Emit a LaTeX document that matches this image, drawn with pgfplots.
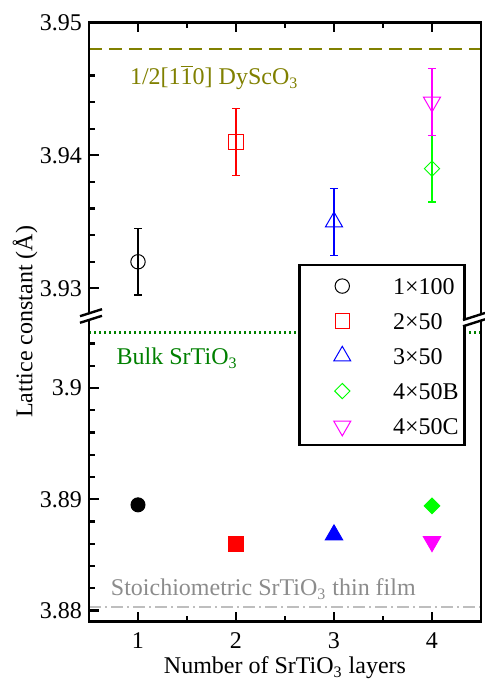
\documentclass[border=0pt]{standalone}
\usepackage{fontspec}
\setmainfont{Liberation Serif}
\usepackage{pgfplots}
\pgfplotsset{compat=1.18}
\definecolor{olivec}{HTML}{808000}
\definecolor{bulkc}{HTML}{008000}
\definecolor{stoc}{HTML}{BEBEBE}
\definecolor{stotext}{HTML}{8C8C8C}
\definecolor{grn}{RGB}{0,255,0}
\definecolor{mag}{RGB}{255,0,255}
\definecolor{rd}{RGB}{255,0,0}
\definecolor{bl}{RGB}{0,0,255}
\newcommand\fs{\fontsize{12pt}{14pt}\selectfont}
\pgfplotsset{
  common/.style={
    scale only axis, width=196pt, xmin=0.5, xmax=4.5,
    xtick={1,2,3,4}, minor xtick={1.5,2.5,3.5},
    tick align=inside, major tick length=5pt, minor tick length=2.8pt,
    tick style={black, line width=1.1pt},
    axis line style={draw=none},
    ytick pos=left,
    tick label style={font=\fs},
    /pgf/number format/assume math mode=true,
    clip=false,
    every axis plot/.append style={line width=0.5pt},
    error bars/error bar style={line width=0.6pt},
    error bars/error mark options={rotate=90, mark size=2pt, line width=0.6pt},
  }
}
\begin{document}
\begin{tikzpicture}
\path[use as bounding box] (0,0) rectangle (242pt,343pt);
% lower part
\begin{axis}[common, at={(44.5pt,183.5pt)}, anchor=north west, height=151.35pt,
  ymin=3.879, ymax=3.9062, ytick={3.88,3.89,3.9}, yticklabels={3.88,3.89,3.9},
  minor ytick={3.882,3.884,3.886,3.888,3.892,3.894,3.896,3.898,3.902,3.904},
  xtick pos=left, xticklabels={1,2,3,4}, xticklabel style={yshift=-1.75pt},
  xlabel={Number of SrTiO\textsubscript{3} layers},
  xlabel style={font=\fs, at={(rel axis cs:0.5,0)}, anchor=base, yshift=-26pt},
]
\addplot[forget plot, stoc, line width=1pt, dash pattern=on 6pt off 2pt on 1pt off 2pt] coordinates {(0.5,3.8803) (4.5,3.8803)};
\addplot[forget plot, bulkc, line width=1.2pt, dash pattern=on 1.2pt off 1.3pt] coordinates {(0.5,3.905) (4.5,3.905)};
\addplot[only marks, mark=*, mark size=3.5pt, black] coordinates {(1,3.8895)};
\addplot[only marks, mark=square*, mark size=3.8pt, rd] coordinates {(2,3.886)};
\addplot[only marks, mark=triangle*, mark size=5pt, bl] coordinates {(3,3.8868)};
\addplot[only marks, mark=square*, mark size=2.75pt, mark options={rotate=45}, grn] coordinates {(4,3.8894)};
\addplot[only marks, mark=triangle*, mark size=5pt, mark options={rotate=180}, mag] coordinates {(4,3.8862)};
\node[anchor=base west, font=\fs, text=bulkc, inner sep=0pt] at (axis cs:0.779,3.9021) {Bulk SrTiO\textsubscript{3}};
\node[anchor=base west, font=\fs, text=stotext, inner sep=0pt] at (axis cs:0.72,3.88135) {Stoichiometric SrTiO\textsubscript{3} thin film};
\draw[line width=1.35pt] (rel axis cs:0,1) -- (rel axis cs:0,0) -- (rel axis cs:1,0) -- (rel axis cs:1,1);
\end{axis}
% upper part
\begin{axis}[common, at={(44.5pt,183.5pt)}, anchor=south west, height=148.35pt,
  ymin=3.9277, ymax=3.95, ytick={3.93,3.94,3.95}, yticklabels={3.93,3.94,3.95},
  minor ytick={3.928,3.932,3.934,3.936,3.938,3.942,3.944,3.946,3.948},
  xtick pos=right, xticklabels={},
  legend style={at={(rel axis cs:0.534,0.1863)}, anchor=north west, draw=black, line width=1.35pt, fill=white,
    inner xsep=0pt, inner ysep=1.25pt, row sep=0pt, column sep=0pt, cells={anchor=base west},
    nodes={inner sep=0pt, text height=13.25pt, text depth=4.25pt, text width=35.8pt, font=\fs}},
  legend image code/.code={\path[draw=none,fill=none] (0pt,0pt) -- (46.7pt,0pt); \draw[only marks, mark repeat=2,mark phase=2] plot coordinates {(0pt,4pt) (21.3pt,4pt) (42pt,4pt)};},
]
\addplot[forget plot, olivec, line width=1.15pt, dash pattern=on 6.5pt off 3.5pt] coordinates {(0.5,3.948) (4.5,3.948)};
\addplot[black, line width=0.5pt, only marks, mark=o, mark size=3.6pt, error bars/.cd, y dir=both, y explicit] coordinates {(1,3.932) +- (0,0.0025)};
\addlegendentry{1×100}
\addplot[rd, line width=0.5pt, only marks, mark=square, mark size=3.6pt, error bars/.cd, y dir=both, y explicit] coordinates {(2,3.941) +- (0,0.0025)};
\addlegendentry{2×50}
\addplot[bl, line width=0.5pt, only marks, mark=triangle, mark size=4.9pt, error bars/.cd, y dir=both, y explicit] coordinates {(3,3.935) +- (0,0.0025)};
\addlegendentry{3×50}
\addplot[grn, line width=0.5pt, only marks, mark=square, mark size=2.7pt, mark options={rotate=45}, error bars/.cd, y dir=both, y explicit] coordinates {(4,3.939) +- (0,0.0025)};
\addlegendentry{4×50B}
\addplot[mag, line width=0.5pt, only marks, mark=triangle, mark size=4.9pt, mark options={rotate=180}, error bars/.cd, y dir=both, y explicit] coordinates {(4,3.944) +- (0,0.0025)};
\addlegendentry{4×50C}
\node[anchor=base west, font=\fs, text=olivec, inner sep=0pt] at (axis cs:0.915,3.94529) {1/2[1$\overline{\mbox{1}}$0] DyScO\textsubscript{3}};
\draw[line width=1.35pt] (rel axis cs:0,0) -- (rel axis cs:0,1) -- (rel axis cs:1,1) -- (rel axis cs:1,0);
\end{axis}
% axis break marks and y label
\begin{scope}[x=0.5pt, y=-0.5pt, yshift=343pt]
\fill[white] (80,316.2) -- (102,309.2) -- (102,315.8) -- (80,322.8) -- cycle;
\draw[line width=1.2pt] (80,316.2) -- (102,309.2) (80,322.8) -- (102,315.8);
\fill[white] (463,320) -- (485,313) -- (485,319.3) -- (463,326.3) -- cycle;
\draw[line width=1.2pt] (463,320) -- (485,313) (463,326.3) -- (485,319.3);
\end{scope}
\node[rotate=90, font=\fs] at (12.5pt,182pt) {Lattice constant (Å)};
\end{tikzpicture}
\end{document}
